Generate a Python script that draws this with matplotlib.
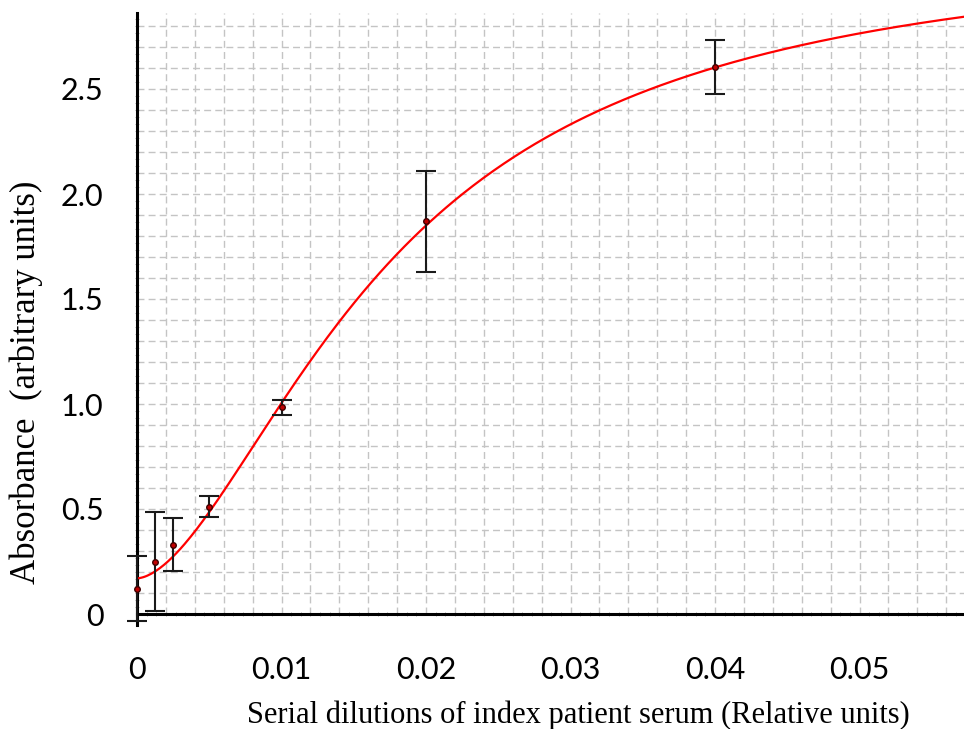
import numpy as np
import matplotlib
matplotlib.use("Agg")
import matplotlib.pyplot as plt
from matplotlib.ticker import MultipleLocator

# Serial dilutions (relative units) and measured absorbance
dilution = [0.0, 0.00125, 0.0025, 0.005, 0.01, 0.02, 0.04]
absorbance = [0.12, 0.25, 0.33, 0.51, 0.985, 1.87, 2.605]
abs_err = [0.155, 0.235, 0.127, 0.05, 0.035, 0.24, 0.13]

# Four-parameter logistic fit: bottom, top, inflection, slope
fit_bottom = 0.17
fit_top = 3.2
fit_c = 0.0176
fit_slope = 1.71

x_ticks = [0, 0.01, 0.02, 0.03, 0.04, 0.05]
x_tick_labels = ["0", "0.01", "0.02", "0.03", "0.04", "0.05"]
y_ticks = [0, 0.5, 1.0, 1.5, 2.0, 2.5]
y_tick_labels = ["0", "0.5", "1.0", "1.5", "2.0", "2.5"]

W, H = 964, 729
fig = plt.figure(figsize=(W / 100, H / 100), dpi=100)

x0_px, x1_px = 137, 964
ytop_px, yzero_px = 13, 614
px_per_unit_y = 210.0
ylo = -0.05
ybot_px = yzero_px + (-ylo) * px_per_unit_y
xmax = (x1_px - x0_px) / 14450.0
ymax = (yzero_px - ytop_px) / px_per_unit_y

ax = fig.add_axes([x0_px / W, 1 - ybot_px / H, (x1_px - x0_px) / W, (ybot_px - ytop_px) / H])
ax.set_xlim(0, xmax)
ax.set_ylim(ylo, ymax)

# Dashed grid every 0.002 (x) and 0.1 (y)
grid_kw = dict(linestyles=(0, (5, 3)), colors="#c4c4c4", linewidth=1.0, zorder=1)
ax.vlines(np.arange(0.002, xmax, 0.002), 0, ymax, **grid_kw)
ax.hlines(np.arange(0.1, ymax, 0.1), 0, xmax, **grid_kw)

for side in ["top", "right"]:
    ax.spines[side].set_visible(False)
ax.spines["left"].set_linewidth(2.2)
ax.spines["bottom"].set_linewidth(2.2)
ax.spines["bottom"].set_position(("data", 0))

ax.set_xticks(x_ticks)
ax.set_xticklabels(x_tick_labels)
ax.set_yticks(y_ticks)
ax.set_yticklabels(y_tick_labels)
ax.xaxis.set_minor_locator(MultipleLocator(0.002 / 3))
ax.yaxis.set_minor_locator(MultipleLocator(0.1 / 3))
ax.tick_params(which="major", length=0)
ax.tick_params(which="minor", length=3, width=0.6, direction="inout", color="#9a9a9a")
ax.tick_params(axis="x", which="major", pad=30)
ax.tick_params(axis="y", which="major", pad=24)
for lab in ax.get_xticklabels() + ax.get_yticklabels():
    lab.set_fontfamily("Lato")
    lab.set_fontsize(22)

# Fitted curve
xf = np.linspace(0, xmax, 400)
yf = fit_top - (fit_top - fit_bottom) / (1 + (xf / fit_c) ** fit_slope)
ax.plot(xf, yf, color="#ff0000", linewidth=1.6, zorder=3)

# Data with error bars
ax.errorbar(dilution, absorbance, yerr=abs_err, fmt="none", ecolor="#1a1a1a",
            elinewidth=1.5, capsize=7.5, capthick=1.5, zorder=4, clip_on=False)
ax.plot(dilution, absorbance, "o", color="#c00000", markeredgecolor="#400000",
        markersize=4, zorder=5, clip_on=False)

fig.text(26 / W, 1 - 382 / H, "Absorbance  (arbitrary units)", rotation=90,
         ha="center", va="center", fontsize=25, family="Liberation Serif")
fig.text(578 / W, 1 - 715 / H, "Serial dilutions of index patient serum (Relative units)",
         ha="center", va="center", fontsize=22, family="Liberation Serif")

fig.savefig("out.png", dpi=100)
